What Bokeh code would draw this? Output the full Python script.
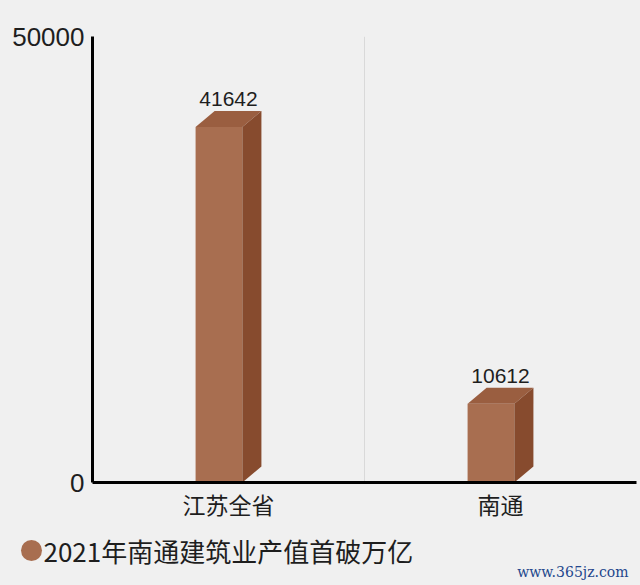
from bokeh.plotting import figure
from bokeh.layouts import column
from bokeh.models import FixedTicker, Label, Range1d, ColumnDataSource
from bokeh.core.properties import value
from bokeh.embed import file_html
from bokeh.resources import INLINE

# ---- data ----
categories = ["江苏全省", "南通"]
values = [41642, 10612]
y_ticks = [0, 50000]
legend_label = "2021年南通建筑业产值首破万亿"
watermark = "www.365jz.com"

# ---- style ----
BG = "#f0f0f0"
FRONT = "#a86e50"
TOP = "#9a5e40"
SIDE = "#874b2e"
TXT = "#1e1e1e"
CJK = "Noto Sans CJK SC"
NUM = "Liberation Sans"

p = figure(width=640, height=530, output_backend="svg", toolbar_location=None,
           x_range=Range1d(0, len(categories)), y_range=Range1d(y_ticks[0], y_ticks[-1]),
           min_border_left=92, min_border_right=4, min_border_top=36, min_border_bottom=48,
           background_fill_color=BG, border_fill_color=BG, outline_line_color=None)
p.frame_align = False

centers = [i + 0.5 for i in range(len(categories))]

# 3D box geometry (relative offsets)
fl, fr, dx = -0.121, 0.051, 0.07
dy = 1794.0

front = ColumnDataSource(dict(
    left=[c + fl for c in centers], right=[c + fr for c in centers],
    bottom=[0] * len(values), top=[v - dy for v in values]))
p.quad(left="left", right="right", bottom="bottom", top="top", source=front,
       fill_color=FRONT, line_color=None)

top_xs, top_ys, side_xs, side_ys = [], [], [], []
for c, v in zip(centers, values):
    top_xs.append([c + fl, c + fr, c + fr + dx, c + fl + dx])
    top_ys.append([v - dy, v - dy, v, v])
    side_xs.append([c + fr, c + fr + dx, c + fr + dx, c + fr])
    side_ys.append([0, dy, v, v - dy])
p.patches(xs=top_xs, ys=top_ys, fill_color=TOP, line_color=None)
p.patches(xs=side_xs, ys=side_ys, fill_color=SIDE, line_color=None)

# value labels
p.text(x=centers, y=values, text=[str(v) for v in values], text_align="center",
       text_baseline="bottom", y_offset=-5, text_font=value(NUM), text_font_size="21px",
       text_color=TXT)

# axes
for ax in (p.xaxis[0], p.yaxis[0]):
    ax.axis_line_color = "black"
    ax.axis_line_width = 3
    ax.major_tick_line_color = None
    ax.minor_tick_line_color = None
    ax.major_tick_out = 0
    ax.major_tick_in = 0
    ax.major_label_text_color = TXT

p.yaxis.ticker = FixedTicker(ticks=y_ticks)
p.yaxis.major_label_text_font = NUM
p.yaxis.major_label_text_font_size = "26px"
p.yaxis.major_label_standoff = 8

p.xaxis.ticker = FixedTicker(ticks=centers)
p.xaxis.major_label_overrides = {c: cat for c, cat in zip(centers, categories)}
p.xaxis.major_label_text_font = CJK
p.xaxis.major_label_text_font_size = "23px"
p.xaxis.major_label_standoff = 4

# grids
p.xgrid.ticker = FixedTicker(ticks=[1])
p.xgrid.grid_line_color = "#d9d9d9"
p.xgrid.grid_line_width = 1
p.ygrid.ticker = FixedTicker(ticks=[y_ticks[-1]])
p.ygrid.grid_line_color = "#d9d9d9"
p.ygrid.grid_line_width = 2

# ---- legend strip (page-pixel coordinates, full-width frame) ----
p2 = figure(width=640, height=55, output_backend="svg", toolbar_location=None,
            x_range=Range1d(0, 640), y_range=Range1d(0, 55),
            x_axis_type=None, y_axis_type=None, min_border=0,
            background_fill_color=BG, border_fill_color=BG, outline_line_color=None)
p2.frame_align = False
p2.scatter(x=[31], y=[35], marker="circle", size=21, fill_color=FRONT, line_color=None)
p2.text(x=[43], y=[35], text=[legend_label], text_align="left", text_baseline="middle",
        text_font=value(CJK), text_font_size="26px", text_color=TXT)
p2.add_layout(Label(x=628, y=14, text=watermark, text_align="right", text_baseline="middle",
                    text_font="DejaVu Serif", text_font_size="14px", text_color="#23468c"))

layout = column(p, p2, spacing=0, styles={"background-color": BG})
open("out.html", "w").write(file_html(layout, INLINE))
